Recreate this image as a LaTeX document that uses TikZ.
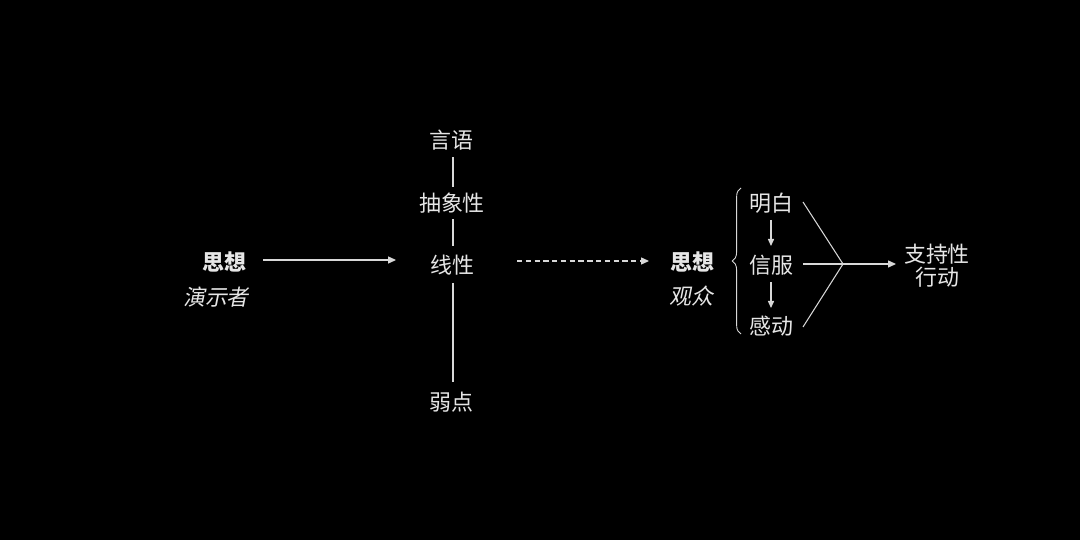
\documentclass[tikz,border=0pt]{standalone}
\usepackage{fontspec}
\setmainfont{Noto Sans CJK SC}
\newfontfamily\cjk{Noto Sans CJK SC}
\newfontfamily\cjkslant[FakeSlant=0.2]{Noto Sans CJK SC}
\usetikzlibrary{arrows.meta,decorations.pathreplacing}
\definecolor{fg}{HTML}{E6E6E6}
\definecolor{ln}{HTML}{D8D8D8}
\begin{document}
\begin{tikzpicture}[x=0.02cm,y=-0.02cm,
  lbl/.style={text=fg,font=\fontsize{12.5pt}{14pt}\selectfont\cjk,inner sep=0pt},
  bld/.style={text=fg,font=\fontsize{12.5pt}{14pt}\selectfont\cjk\bfseries,inner sep=0pt},
  slt/.style={text=fg,font=\fontsize{12.5pt}{14pt}\selectfont\cjkslant,inner sep=0pt},
  conn/.style={draw=ln,line width=0.6pt},
  arr/.style={conn,-{Triangle[length=4.5pt,width=4pt]}},
  sarr/.style={conn,-{Triangle[length=4pt,width=3.5pt]}}]
\fill[black] (0,0) rectangle (1080,540);
\useasboundingbox (0,0) rectangle (1080,540);
% left
\node[bld] (t1) at (224,262) {思想};
\node[slt] (p1) at (216,297) {演示者};
\coordinate (a1s) at (263,260);
\coordinate (a1e) at (396,260);
\draw[arr] (a1s) -- (a1e);
% middle column
\node[lbl] (yy) at (451,140) {言语};
\node[lbl] (cx) at (452,203) {抽象性};
\node[lbl] (xx) at (452,265) {线性};
\node[lbl] (rd) at (451,402) {弱点};
\coordinate (v1a) at (453,157); \coordinate (v1b) at (453,187);
\coordinate (v2a) at (453,219); \coordinate (v2b) at (453,246);
\coordinate (v3a) at (453,283); \coordinate (v3b) at (453,382);
\draw[conn] (v1a) -- (v1b);
\draw[conn] (v2a) -- (v2b);
\draw[conn] (v3a) -- (v3b);
% dashed arrow
\coordinate (a2s) at (517,261);
\coordinate (a2e) at (649,261);
\draw[arr,dashed,dash pattern=on 3pt off 2pt] (a2s) -- (a2e);
% audience
\node[bld] (t2) at (692,262) {思想};
\node[slt] (p2) at (691,296) {观众};
\coordinate (bt) at (741,188);
\coordinate (bb) at (741,334);
\draw[conn,line width=0.5pt,decorate,decoration={brace,amplitude=5pt}] (bb) -- (bt);
\node[lbl] (mb) at (771,203) {明白};
\node[lbl] (xf) at (771,265) {信服};
\node[lbl] (gd) at (771,326) {感动};
\coordinate (s1a) at (771,220); \coordinate (s1b) at (771,246);
\coordinate (s2a) at (771,282); \coordinate (s2b) at (771,308);
\draw[sarr] (s1a) -- (s1b);
\draw[sarr] (s2a) -- (s2b);
% convergence
\coordinate (m) at (843,264);
\coordinate (l1) at (803,202);
\coordinate (l2) at (803,264);
\coordinate (l3) at (803,327);
\coordinate (ae) at (896,264);
\draw[conn] (l1) -- (m) -- (l3);
\draw[arr] (l2) -- (ae);
\node[lbl,align=center] (zc) at (937,266) {支持性\\[-1pt]行动};
\end{tikzpicture}
\end{document}
